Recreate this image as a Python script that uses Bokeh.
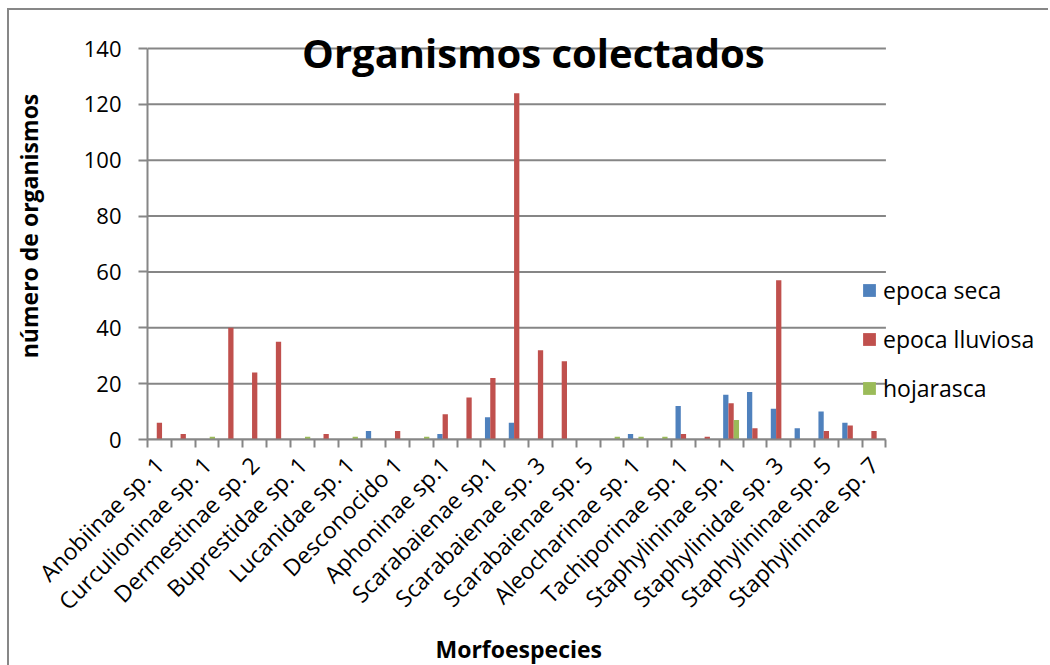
import math
import numpy as np
from bokeh.plotting import figure
from bokeh.models import (ColumnDataSource, Range1d, FixedTicker, Label, Legend, LegendItem, Title)
from bokeh.embed import file_html
from bokeh.resources import INLINE

# ---------------- data ----------------
categories = [
    "Anobiinae sp. 1", "Anobiinae sp. 2", "Curculioninae sp. 1", "Dermestinae sp. 1",
    "Dermestinae sp. 2", "Dermestinae sp. 3", "Buprestidae sp. 1", "Buprestidae sp. 2",
    "Lucanidae sp. 1", "Lucanidae sp. 2", "Desconocido 1", "Desconocido 2",
    "Aphoninae sp.1", "Aphoninae sp.2", "Scarabaienae sp.1", "Scarabaienae sp. 2",
    "Scarabaienae sp. 3", "Scarabaienae sp. 4", "Scarabaienae sp. 5", "Scarabaienae sp. 6",
    "Aleocharinae sp. 1", "Aleocharinae sp. 2", "Tachiporinae sp. 1", "Tachiporinae sp. 2",
    "Staphylininae sp. 1", "Staphylininae sp. 2", "Staphylinidae sp. 3", "Staphylininae sp. 4",
    "Staphylininae sp. 5", "Staphylininae sp. 6", "Staphylininae sp. 7",
]
epoca_seca = [0, 0, 0, 0, 0, 0, 0, 0, 0, 3, 0, 0, 2, 0, 8, 6,
              0, 0, 0, 0, 2, 0, 12, 0, 16, 17, 11, 4, 10, 6, 0]
epoca_lluviosa = [6, 2, 0, 40, 24, 35, 0, 2, 0, 0, 3, 0, 9, 15, 22, 124,
                  32, 28, 0, 0, 0, 0, 2, 1, 13, 4, 57, 0, 3, 5, 3]
hojarasca = [0, 0, 1, 0, 0, 0, 1, 0, 1, 0, 0, 1, 0, 0, 0, 0,
             0, 0, 0, 1, 1, 1, 0, 0, 7, 0, 0, 0, 0, 0, 0]
series_names = ["epoca seca", "epoca lluviosa", "hojarasca"]
series_colors = ["#4F81BD", "#C0504D", "#9BBB59"]
y_ticks = [0, 20, 40, 60, 80, 100, 120, 140]
title_text = "Organismos colectados"
x_title = "Morfoespecies"
y_title = "número de organismos"

# ---------------- layout constants ----------------
FONT = "Open Sans"
GRAY = "#868686"
W, H = 1048, 665
LEFT = 147            # y axis position (px)
AXIS_TOP = 48         # pixel row of the top value (140)
FRAME_TOP = 12        # frame extends above so the title is not clipped
BOTTOM_Y = 439        # pixel row of 0
CAT_PX = 23.82
n = len(categories)
y_max = y_ticks[-1]
px_per_unit = (BOTTOM_Y - AXIS_TOP) / y_max
y_end = (BOTTOM_Y - FRAME_TOP) / px_per_unit
x_end = (W - LEFT) / CAT_PX
centers = np.arange(n) + 0.5
bar_w = 0.222

p = figure(width=W, height=H, x_range=Range1d(0, x_end), y_range=Range1d(0, y_end),
           output_backend="svg", toolbar_location=None,
           min_border_left=LEFT, min_border_right=0, min_border_top=FRAME_TOP,
           min_border_bottom=H - BOTTOM_Y)
p.border_fill_color = None
p.background_fill_color = None
p.outline_line_color = None
p.styles = {
    "background-image": "linear-gradient(#878787, #878787), linear-gradient(#878787, #878787)",
    "background-position": "8px 8px, 7px 8px",
    "background-size": "100% 2px, 2px 100%",
    "background-repeat": "no-repeat",
}

# horizontal gridlines over the category span only
p.xgrid.visible = False
p.ygrid.visible = False
p.segment(x0=0, x1=n, y0=y_ticks, y1=y_ticks, line_color=GRAY, line_width=2)

renderers = []
for k, (vals, col) in enumerate(zip([epoca_seca, epoca_lluviosa, hojarasca], series_colors)):
    src = ColumnDataSource(dict(x=centers + (k - 1) * bar_w, top=vals))
    r = p.vbar(x="x", top="top", width=bar_w, source=src, fill_color=col, line_color=None)
    renderers.append(r)

# y axis
ya = p.yaxis[0]
ya.bounds = (0, y_max)
ya.ticker = FixedTicker(ticks=y_ticks)
ya.axis_line_color = GRAY
ya.axis_line_width = 2
ya.major_tick_line_color = GRAY
ya.major_tick_line_width = 2
ya.major_tick_out = 9
ya.major_tick_in = 0
ya.minor_tick_line_color = None
ya.major_label_text_font = FONT
ya.major_label_text_font_size = "22px"
ya.major_label_text_color = "black"
ya.major_label_standoff = 17
ya.axis_label = y_title
ya.axis_label_text_font = FONT
ya.axis_label_text_font_size = "23px"
ya.axis_label_text_font_style = "bold"
ya.axis_label_text_color = "black"
ya.axis_label_standoff = 36

# x axis
xa = p.xaxis[0]
shown = list(range(0, n, 2))
xa.bounds = (0, n)
xa.ticker = FixedTicker(ticks=[float(centers[i]) for i in shown], minor_ticks=list(range(n + 1)))
xa.major_label_overrides = {float(centers[i]): categories[i] for i in shown}
xa.major_label_orientation = math.pi / 4
xa.axis_line_color = GRAY
xa.axis_line_width = 2
xa.major_tick_out = 0
xa.major_tick_in = 0
xa.major_tick_line_color = None
xa.minor_tick_line_color = GRAY
xa.minor_tick_line_width = 2
xa.minor_tick_out = 8
xa.minor_tick_in = 0
xa.major_label_text_font = FONT
xa.major_label_text_font_size = "23px"
xa.major_label_text_color = "black"
xa.major_label_standoff = 13

# x axis title, centred under the category span
p.add_layout(Title(text=x_title, align="left", offset=288, standoff=1,
                   text_font=FONT, text_font_size="23px", text_font_style="bold",
                   text_color="black"), "below")

# chart title inside the plot area
p.add_layout(Label(x=16.2, y=138.6, text=title_text, text_font=FONT, text_font_size="40px",
                   text_font_style="bold", text_color="black", text_align="center",
                   text_baseline="alphabetic"))

legend = Legend(items=[LegendItem(label=nm, renderers=[r]) for nm, r in zip(series_names, renderers)],
                location=(714, 35), padding=0, margin=0, spacing=17,
                glyph_width=16, glyph_height=16, label_standoff=6,
                border_line_color=None, background_fill_alpha=0,
                label_text_font=FONT, label_text_font_size="23px", label_text_color="black")
p.add_layout(legend, "center")

open("out.html", "w").write(file_html(p, INLINE))
